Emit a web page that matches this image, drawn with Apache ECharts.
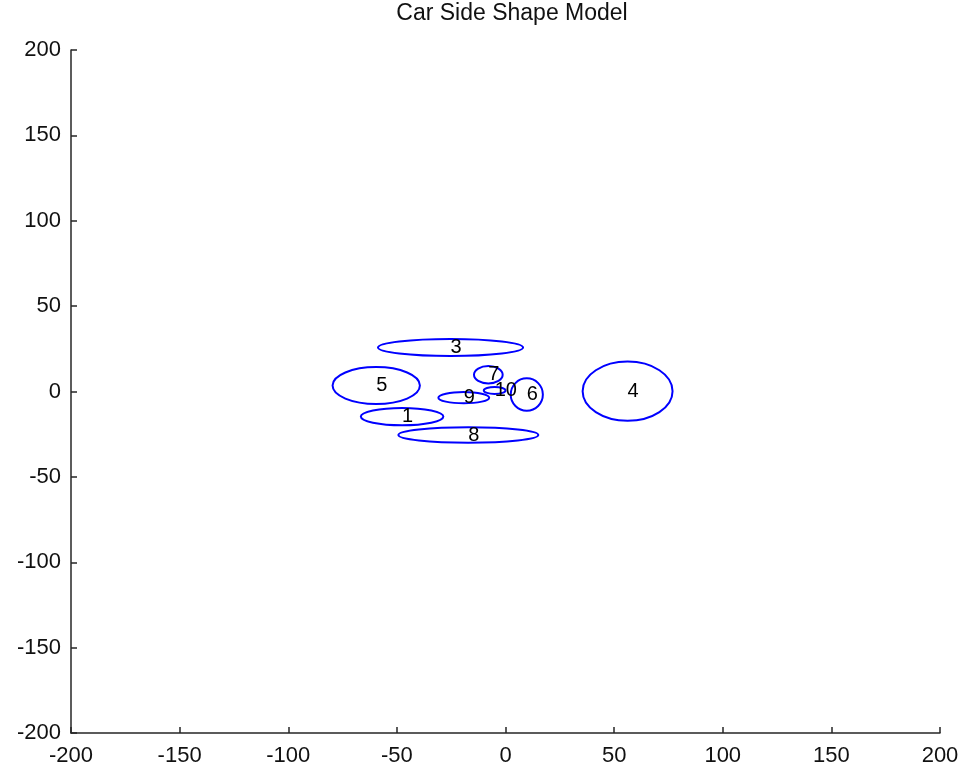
<!DOCTYPE html>
<html>
<head>
<meta charset="utf-8">
<title>Car Side Shape Model</title>
<script src="https://cdn.jsdelivr.net/npm/echarts@6/dist/echarts.min.js"></script>
<style>
  html, body { margin: 0; padding: 0; background: #fff; }
  #chart { width: 966px; height: 775px; }
</style>
</head>
<body>
<div id="chart"></div>
<script>
// ellipse parts of the car side model (data units)
const shapeIds = ["1", "3", "4", "5", "6", "7", "8", "9", "10"];
const centerX = [-47.6, -25.3, 56.2, -59.5, 9.8, -7.9, -17.1, -19.2, -5.0];
const centerY = [-14.7, 25.8, 0.2, 3.5, -1.8, 9.8, -25.5, -3.6, 0.6];
const radiusX = [19.0, 33.4, 20.7, 20.1, 7.4, 6.6, 32.2, 11.7, 5.0];
const radiusY = [5.1, 5.0, 17.3, 10.8, 9.5, 5.1, 4.5, 3.3, 2.0];

const axisMin = -200;
const axisMax = 200;
const tickStep = 50;

const FONT = "Liberation Sans, Arial, sans-serif";
const AXIS_COLOR = "#262626";

const chart = echarts.init(document.getElementById("chart"), null, { renderer: "canvas" });

const rows = shapeIds.map((id, i) => [centerX[i], centerY[i], radiusX[i], radiusY[i], id]);

function axisBase(margin) {
  return {
    type: "value",
    min: axisMin,
    max: axisMax,
    interval: tickStep,
    axisLine: { show: true, onZero: false, lineStyle: { color: AXIS_COLOR, width: 1.5 } },
    axisTick: { show: true, inside: true, length: 6, lineStyle: { color: AXIS_COLOR, width: 1.5 } },
    splitLine: { show: false },
    axisLabel: {
      color: "#111",
      fontSize: 22,
      fontFamily: FONT,
      margin,
      showMinLabel: true,
      showMaxLabel: true,
    },
  };
}

chart.setOption({
  backgroundColor: "#fff",
  animation: false,
  title: {
    text: "Car Side Shape Model",
    left: 507,
    textAlign: "center",
    top: -3,
    textStyle: { color: "#111", fontSize: 23, fontWeight: "normal", fontFamily: FONT },
  },
  grid: { left: 71, right: 26, top: 50, bottom: 42, containLabel: false },
  xAxis: axisBase(12),
  yAxis: axisBase(10),
  series: [
    {
      type: "custom",
      coordinateSystem: "cartesian2d",
      data: rows,
      encode: { x: 0, y: 1 },
      clip: false,
      renderItem: (params, api) => {
        const c = api.coord([api.value(0), api.value(1)]);
        const size = api.size([api.value(2), api.value(3)]);
        return {
          type: "group",
          children: [
            {
              type: "ellipse",
              shape: { cx: c[0], cy: c[1], rx: size[0], ry: size[1] },
              style: { fill: "none", stroke: "#0000ff", lineWidth: 2 },
            },
            {
              type: "text",
              x: c[0],
              y: c[1],
              style: {
                text: api.value(4),
                fill: "#000",
                fontSize: 20,
                fontFamily: FONT,
                align: "left",
                verticalAlign: "middle",
              },
            },
          ],
        };
      },
    },
  ],
});
</script>
</body>
</html>
